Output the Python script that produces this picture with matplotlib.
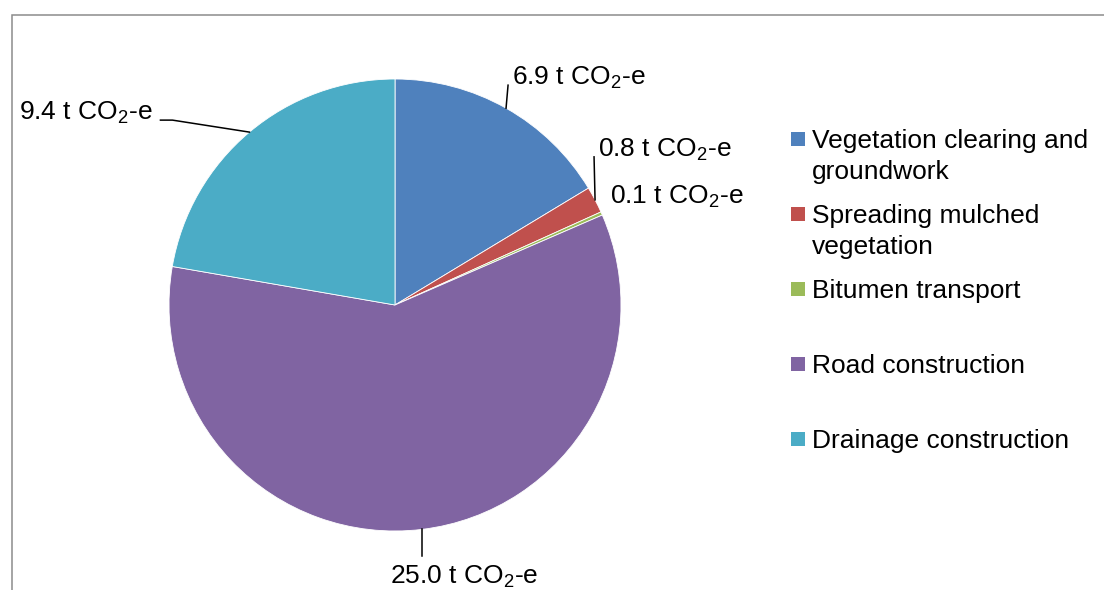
import numpy as np
import matplotlib
matplotlib.use("Agg")
import matplotlib.pyplot as plt
from matplotlib.patches import Rectangle
from matplotlib.transforms import IdentityTransform

plt.rcParams['font.family'] = ['Liberation Sans', 'DejaVu Sans']
plt.rcParams['mathtext.fontset'] = 'custom'
plt.rcParams['mathtext.rm'] = 'Liberation Sans'
plt.rcParams['mathtext.it'] = 'Liberation Sans:italic'
plt.rcParams['mathtext.default'] = 'regular'

# emissions per activity (t CO2-e)
activities = ['Vegetation clearing and\ngroundwork', 'Spreading mulched\nvegetation',
              'Bitumen transport', 'Road construction', 'Drainage construction']
emissions = [6.9, 0.8, 0.1, 25.0, 9.4]
colors = ['#4F81BD', '#C0504D', '#9BBB59', '#8064A2', '#4BACC6']

W, H = 1104, 590
fig = plt.figure(figsize=(W / 100, H / 100), dpi=100)

# gray chart frame (runs off the right and bottom edge)
fig.add_artist(Rectangle((12 / W, -0.1), 1.2, 1 - 15 / H + 0.1, transform=fig.transFigure,
                         fill=False, edgecolor='#8c8c8c', linewidth=1.1))

cx, cy, r = 395, 305, 226
ax = fig.add_axes([(cx - r) / W, 1 - (cy + r) / H, 2 * r / W, 2 * r / H])
wedges, _ = ax.pie(emissions, colors=colors, startangle=90, counterclock=False, radius=1,
                   wedgeprops=dict(linewidth=0.6, edgecolor='white'))
ax.set_xlim(-1, 1)
ax.set_ylim(-1, 1)
ax.set_aspect('equal')
ax.axis('off')

# label layout per slice: leader line points and text position as pixel offsets
# from the slice's outer edge point (x right, y down), plus alignment
label_layout = [
    dict(line=[(0, 0), (2, -23)], text=(6, -23), ha='left'),
    dict(line=[(0, 0), (-1, -43)], text=(3, -43), ha='left'),
    dict(line=None, text=(8, -10), ha='left'),
    dict(line=[(0, 0), (0, 27)], text=(-32, 54), ha='left'),
    dict(line=[(0, 0), (-77, -12), (-89, -12)], text=(-97, -12), ha='right'),
]
fs = 19
ident = IdentityTransform()
for w, v, lay in zip(wedges, emissions, label_layout):
    mid = np.deg2rad((w.theta1 + w.theta2) / 2)
    ex, ey = ax.transData.transform((np.cos(mid), np.sin(mid)))
    if lay['line']:
        xs = [ex + dx for dx, dy in lay['line']]
        ys = [ey - dy for dx, dy in lay['line']]
        fig.add_artist(plt.Line2D(xs, ys, color='black', linewidth=1.1, transform=ident))
    tx, ty = lay['text']
    fig.text(ex + tx, ey - ty, f'{v:.1f} t CO$_2$-e', transform=ident, fontsize=fs,
             ha=lay['ha'], va='baseline', color='black')

# legend, spaced like the original
legend_baselines = [148, 223, 298, 373, 448]
for lab, col, yb in zip(activities, colors, legend_baselines):
    fig.add_artist(Rectangle((791 / W, 1 - (yb - 2) / H), 14 / W, 14 / H,
                             transform=fig.transFigure, facecolor=col, edgecolor='none'))
    for i, line in enumerate(lab.split('\n')):
        fig.text(812 / W, 1 - (yb + 31 * i) / H, line, fontsize=fs, ha='left',
                 va='baseline', color='black')

fig.savefig('out.png', dpi=100)
